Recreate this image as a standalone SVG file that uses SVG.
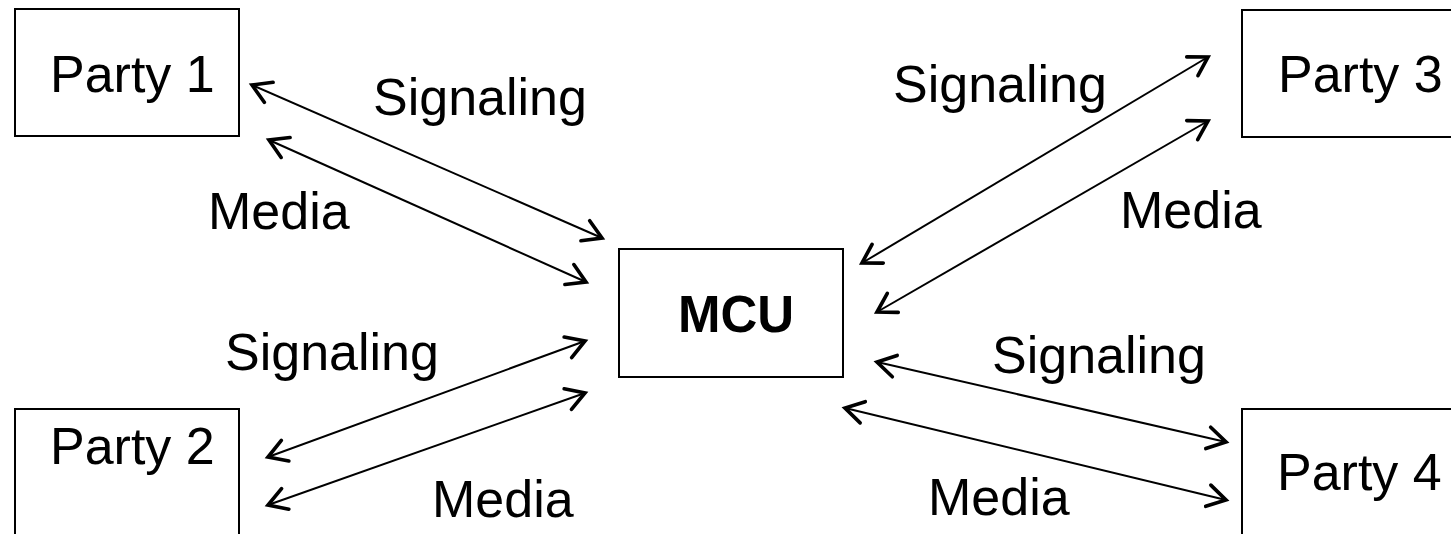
<svg xmlns="http://www.w3.org/2000/svg" width="1451" height="534" viewBox="0 0 1451 534">
  <style>
    .box { fill: #ffffff; stroke: #000000; stroke-width: 2; }
    .lbl { font-family: "Liberation Sans", Arial, Helvetica, sans-serif; font-size: 52px; fill: #000000; }
    .bold { font-weight: bold; font-size: 51px; }
    .link { stroke: #000000; stroke-width: 2; fill: none; marker-start: url(#head); marker-end: url(#head); }
  </style>
  <defs>
    <marker id="head" markerUnits="userSpaceOnUse" markerWidth="34" markerHeight="34" viewBox="-18 -14 22 28" refX="0" refY="0" orient="auto-start-reverse" overflow="visible">
      <path d="M -15 -9 L 0 0 L -15 9" fill="none" stroke="#000000" stroke-width="3" stroke-linecap="round" stroke-linejoin="miter"/>
    </marker>
  </defs>
  <rect width="1451" height="534" fill="#ffffff"/>

  <g id="party1">
    <rect class="box" x="15" y="9" width="224" height="127"/>
    <text class="lbl" x="50" y="92">Party 1</text>
  </g>
  <g id="party2">
    <rect class="box" x="15" y="409" width="224" height="140"/>
    <text class="lbl" x="50" y="464">Party 2</text>
  </g>
  <g id="party3">
    <rect class="box" x="1242" y="10" width="230" height="127"/>
    <text class="lbl" x="1278" y="92">Party 3</text>
  </g>
  <g id="party4">
    <rect class="box" x="1242" y="409" width="230" height="140"/>
    <text class="lbl" x="1277" y="490">Party 4</text>
  </g>
  <g id="mcu">
    <rect class="box" x="619" y="249" width="224" height="128"/>
    <text class="lbl bold" x="678" y="332">MCU</text>
  </g>

  <g id="connectors">
    <line class="link" x1="252" y1="85" x2="602" y2="238"/>
    <line class="link" x1="269" y1="140" x2="586" y2="282"/>
    <line class="link" x1="268" y1="457" x2="585" y2="341"/>
    <line class="link" x1="268" y1="505" x2="585" y2="393"/>
    <line class="link" x1="862" y1="263" x2="1208" y2="57"/>
    <line class="link" x1="877" y1="312" x2="1208" y2="121"/>
    <line class="link" x1="877" y1="362" x2="1226" y2="442"/>
    <line class="link" x1="845" y1="408" x2="1226" y2="500"/>
  </g>

  <g id="labels">
    <text class="lbl" x="373" y="115">Signaling</text>
    <text class="lbl" x="208" y="229">Media</text>
    <text class="lbl" x="893" y="102">Signaling</text>
    <text class="lbl" x="1120" y="228">Media</text>
    <text class="lbl" x="225" y="370">Signaling</text>
    <text class="lbl" x="432" y="517">Media</text>
    <text class="lbl" x="992" y="373">Signaling</text>
    <text class="lbl" x="928" y="515">Media</text>
  </g>
</svg>
